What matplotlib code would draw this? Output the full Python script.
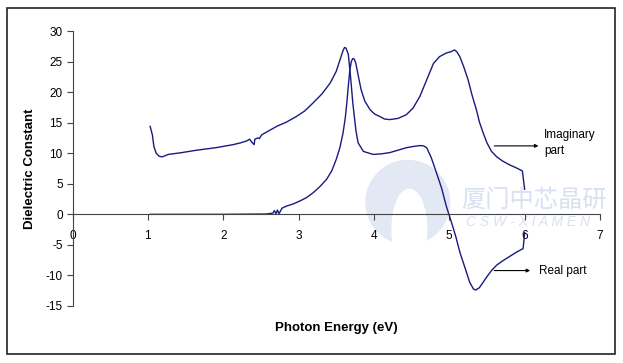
import matplotlib
matplotlib.use("Agg")
import matplotlib.pyplot as plt
from matplotlib.patches import Rectangle, Ellipse

# photon energy (eV) / dielectric constant
real_x = [1.03, 1.06, 1.08, 1.11, 1.15, 1.19, 1.23, 1.27, 1.45, 1.65, 1.9, 2.13, 2.23, 2.31, 2.35,
          2.38, 2.41, 2.42, 2.46, 2.48, 2.51, 2.61, 2.71, 2.84, 2.97, 3.08, 3.19, 3.31, 3.42, 3.50,
          3.55, 3.59, 3.61, 3.63, 3.66, 3.69, 3.72, 3.76, 3.79, 3.86, 3.99, 4.10, 4.21, 4.32, 4.43,
          4.52, 4.61, 4.66, 4.70, 4.76, 4.83, 4.90, 4.96, 5.03, 5.09, 5.14, 5.21, 5.27, 5.32, 5.35,
          5.40, 5.45, 5.50, 5.56, 5.63, 5.71, 5.80, 5.89, 5.98, 6.00]
real_y = [14.4, 13.0, 11.1, 10.0, 9.5, 9.4, 9.6, 9.8, 10.1, 10.5, 10.9, 11.4, 11.7, 12.0, 12.3,
          11.8, 11.4, 12.3, 12.5, 12.4, 13.0, 13.7, 14.4, 15.1, 16.0, 16.9, 18.2, 19.7, 21.5, 23.4,
          25.3, 26.8, 27.3, 27.2, 26.2, 22.5, 18.2, 13.8, 11.7, 10.3, 9.8, 9.9, 10.1, 10.5, 10.9,
          11.1, 11.25, 11.2, 10.9, 9.3, 6.8, 4.2, 1.35, -1.35, -3.8, -6.2, -8.8, -11.1, -12.2, -12.4,
          -12.0, -11.1, -10.2, -9.2, -8.3, -7.6, -6.9, -6.2, -5.6, -3.0]

imag_x = [1.03, 1.5, 2.0, 2.57, 2.66, 2.68, 2.70, 2.72, 2.74, 2.78, 2.84, 2.93, 3.02, 3.10, 3.19,
          3.28, 3.37, 3.44, 3.50, 3.55, 3.59, 3.62, 3.64, 3.66, 3.68, 3.70, 3.72, 3.74, 3.76, 3.79,
          3.83, 3.88, 3.95, 4.01, 4.08, 4.14, 4.21, 4.32, 4.43, 4.52, 4.61, 4.70, 4.79, 4.87, 4.96,
          5.02, 5.07, 5.10, 5.14, 5.19, 5.25, 5.30, 5.36, 5.40, 5.45, 5.50, 5.56, 5.63, 5.71, 5.80,
          5.89, 5.97, 6.00]
imag_y = [0.0, 0.0, 0.0, 0.05, 0.2, 0.6, 0.1, 0.7, 0.1, 1.0, 1.35, 1.7, 2.2, 2.7, 3.5,
          4.5, 5.7, 7.1, 9.0, 11.0, 13.3, 15.8, 18.2, 21.0, 23.6, 25.0, 25.5, 25.4, 24.7, 22.8,
          20.4, 18.5, 17.1, 16.4, 16.0, 15.6, 15.5, 15.7, 16.3, 17.4, 19.3, 22.0, 24.7, 25.8, 26.4,
          26.6, 26.9, 26.6, 25.8, 24.2, 22.0, 19.6, 17.1, 15.1, 13.3, 11.7, 10.3, 9.4, 8.7, 8.1,
          7.6, 7.1, 4.1]

W, H = 623, 363
plt.rcParams['font.family'] = ['Liberation Sans', 'Noto Sans CJK SC', 'DejaVu Sans']
plt.rcParams['font.size'] = 8.5
plt.rcParams['axes.unicode_minus'] = False

fig = plt.figure(figsize=(W / 100, H / 100), dpi=100)
ax = fig.add_axes([72.5 / W, 1 - 306 / H, (600 - 72.5) / W, (306 - 31) / H])

# watermark logo and text
wm = '#e2e9f4'
ax.add_patch(Ellipse((4.45, 1.96), 1.11, 13.7, color=wm, zorder=0))
ax.add_patch(Ellipse((4.47, -2.4), 0.46, 13.0, color='white', zorder=0))
ax.text(6.12, 2.3, '厦门中芯晶研', color='#d8e1f1', fontsize=17.5,
        ha='center', va='center', family=['Noto Sans CJK SC'], zorder=0)
ax.text(6.04, -1.3, 'C S W - X I A M E N', color='#d8e1f1', fontsize=10, style='italic',
        ha='center', va='center', zorder=0)

ax.plot(real_x, real_y, color='#1a1a80', lw=1.0)
ax.plot(imag_x, imag_y, color='#1a1a80', lw=1.0)

ax.set_xlim(0, 7)
ax.set_ylim(-15, 30)
ax.set_xticks(range(0, 8))
ax.set_yticks(range(-15, 31, 5))
for s in ['top', 'right']:
    ax.spines[s].set_visible(False)
ax.spines['bottom'].set_position(('data', 0))
ax.spines['bottom'].set_color('#444444')
ax.spines['left'].set_color('#444444')
ax.tick_params(direction='out', length=4, color='#444444')
ax.tick_params(axis='x', pad=7)
ax.tick_params(axis='y', pad=3)

# annotations
ax.annotate('', xy=(6.22, 11.2), xytext=(5.56, 11.2),
            arrowprops=dict(arrowstyle='-|>', color='black', lw=0.8, mutation_scale=5))
ax.text(6.26, 11.7, 'Imaginary\npart', fontsize=8.5, ha='left', va='center', linespacing=1.4)
ax.annotate('', xy=(6.11, -9.2), xytext=(5.56, -9.2),
            arrowprops=dict(arrowstyle='-|>', color='black', lw=0.8, mutation_scale=5))
ax.text(6.19, -9.2, 'Real part', fontsize=8.5, ha='left', va='center')

fig.text(30 / W, 1 - 169 / H, 'Dielectric Constant', rotation=90, fontweight='bold',
         fontsize=9.5, ha='center', va='center')
fig.text(336 / W, 1 - 328 / H, 'Photon Energy (eV)', fontweight='bold',
         fontsize=9.5, ha='center', va='center')

fig.patches.append(Rectangle((7 / W, 1 - 354 / H), 608 / W, 346 / H, transform=fig.transFigure,
                             fill=False, edgecolor='#222222', lw=1.2))

fig.savefig('out.png', dpi=100)
